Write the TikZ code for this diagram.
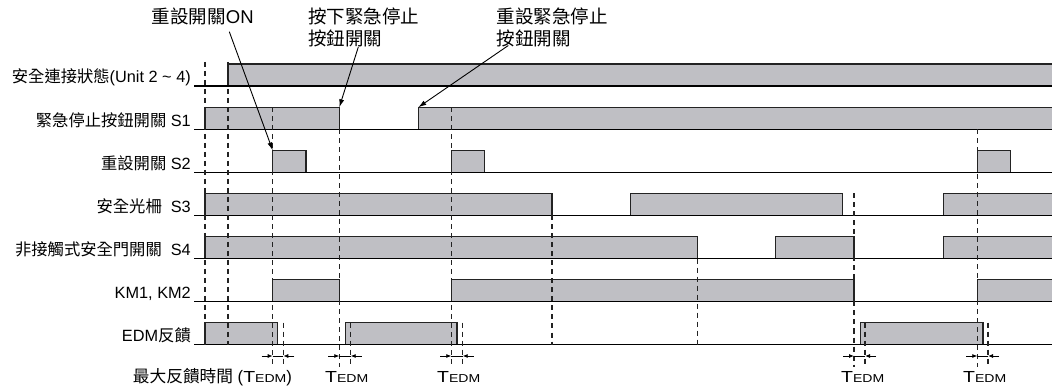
\documentclass[tikz,border=0pt]{standalone}
\usepackage{fontspec}
\setmainfont{Liberation Sans}
\newfontfamily\cjk{Noto Sans CJK TC}
\usetikzlibrary{arrows.meta}
\definecolor{sigfill}{RGB}{191,191,196}
\definecolor{sigline}{RGB}{35,35,35}
\newcommand{\tedm}{\scalebox{1.22}[1]{\fontsize{16}{18}\selectfont T\fontsize{11.5}{12}\selectfont EDM}}
\begin{document}
\begin{tikzpicture}[x=1pt,y=-1pt,
  baseln/.style={line width=1.1pt, black},
  pulse/.style={fill=sigfill, draw=sigline, line width=1.2pt},
  guide/.style={line width=1.1pt, sigline, dash pattern=on 5pt off 4pt},
  lbl/.style={anchor=base east, inner sep=0pt, font=\fontsize{16.3}{18}\selectfont},
  note/.style={anchor=base west, inner sep=0pt, font=\fontsize{18.5}{21}\selectfont},
  tl/.style={anchor=base west, inner sep=0pt},
  callout/.style={line width=0.9pt, -{Latex[length=8pt,width=5pt]}},
  tarrow/.style={line width=0.8pt, -{Latex[length=5pt,width=4pt]}},
]
\useasboundingbox (0,0) rectangle (1052,387);
\fill[white] (0,0) rectangle (1052,387);

% pulses
\draw[pulse] (228,86) rectangle (1060,64);
\draw[pulse] (205,129.3) rectangle (339.3,107.3);
\draw[pulse] (418.3,129.3) rectangle (1060,107.3);
\draw[pulse] (272.7,172.4) rectangle (306,150.4);
\draw[pulse] (451.3,172.4) rectangle (484.5,150.4);
\draw[pulse] (977.3,172.4) rectangle (1010.6,150.4);
\draw[pulse] (205,215.5) rectangle (552,193.5);
\draw[pulse] (630.3,215.5) rectangle (842.3,193.5);
\draw[pulse] (943.7,215.5) rectangle (1060,193.5);
\draw[pulse] (205,258.6) rectangle (697.2,236.6);
\draw[pulse] (775.7,258.6) rectangle (853.9,236.6);
\draw[pulse] (943.7,258.6) rectangle (1060,236.6);
\draw[pulse] (272.7,301.7) rectangle (339.3,279.7);
\draw[pulse] (451.3,301.7) rectangle (854,279.7);
\draw[pulse] (977.3,301.7) rectangle (1060,279.7);
\draw[pulse] (205,344.7) rectangle (277.7,322.7);
\draw[pulse] (345.3,344.7) rectangle (457,322.7);
\draw[pulse] (860.3,344.7) rectangle (983,322.7);

% baselines
\foreach \b in {86,129.3,172.4,215.5,258.6,301.7,344.7}
  \draw[baseln] (194,\b) -- (1052,\b);

% dashed guides
\foreach \x/\ya/\yb in {205/62/344.7, 228/62/344.7, 272.7/107.3/367, 283.3/322.7/367,
  339.3/129.3/367, 350.7/322.7/367, 451.3/107.3/367, 462.7/322.7/367,
  552/215.5/344.7, 697.3/258.6/344.7, 854/193.5/367, 865/322.7/367,
  977.3/129.3/367, 988/322.7/367}
  \draw[guide] (\x,\ya) -- (\x,\yb);

% TEDM arrows
\foreach \a/\b in {272.7/283.3, 339.3/350.7, 451.3/462.7, 854/865, 977.3/988}{
  \draw[line width=0.8pt] (\a,356) -- (\b,356);
  \draw[tarrow] ({\a-11},356) -- (\a,356);
  \draw[tarrow] ({\b+11},356) -- (\b,356);
}

% row labels
\node[lbl] (l0) at (191,83) {{\cjk 安全連接狀態}(Unit 2 \textasciitilde{} 4)};
\node[lbl] (l1) at (191,126.3) {{\cjk 緊急停止按鈕開關} S1};
\node[lbl] (l2) at (191,169.4) {{\cjk 重設開關} S2};
\node[lbl] (l3) at (191,212.5) {{\cjk 安全光柵}\ \ S3};
\node[lbl] (l4) at (191,255.6) {{\cjk 非接觸式安全門開關}\ \ S4};
\node[lbl] (l5) at (191,298.7) {KM1, KM2};
\node[lbl] (l6) at (191,341.7) {EDM{\cjk 反饋}};

% annotations
\node[note] (a1) at (151.7,23.5) {{\cjk 重設開關}ON};
\node[note] (a2) at (308,23.5) {\cjk 按下緊急停止};
\node[note] (a2b) at (308,45.5) {\cjk 按鈕開關};
\node[note] (a3) at (496.7,23.5) {\cjk 重設緊急停止};
\node[note] (a3b) at (496.7,45.5) {\cjk 按鈕開關};

\coordinate (c1s) at (229.3,31.7);
\coordinate (c1e) at (272.7,150.4);
\coordinate (c2s) at (358.3,47);
\coordinate (c2e) at (339.3,107.3);
\coordinate (c3s) at (508.3,45.5);
\coordinate (c3e) at (418.3,107.3);
\draw[callout] (c1s) -- (c1e);
\draw[callout] (c2s) -- (c2e);
\draw[callout] (c3s) -- (c3e);

% bottom labels
\node[tl, font=\fontsize{16.7}{19}\selectfont] (b0) at (132.7,382.5) {{\cjk 最大反饋時間} (\tedm)};
\node[tl] (b1) at (325,382.5) {\tedm};
\node[tl] (b2) at (437,382.5) {\tedm};
\node[tl] (b3) at (841,382.5) {\tedm};
\node[tl] (b4) at (963,382.5) {\tedm};
\end{tikzpicture}
\end{document}
